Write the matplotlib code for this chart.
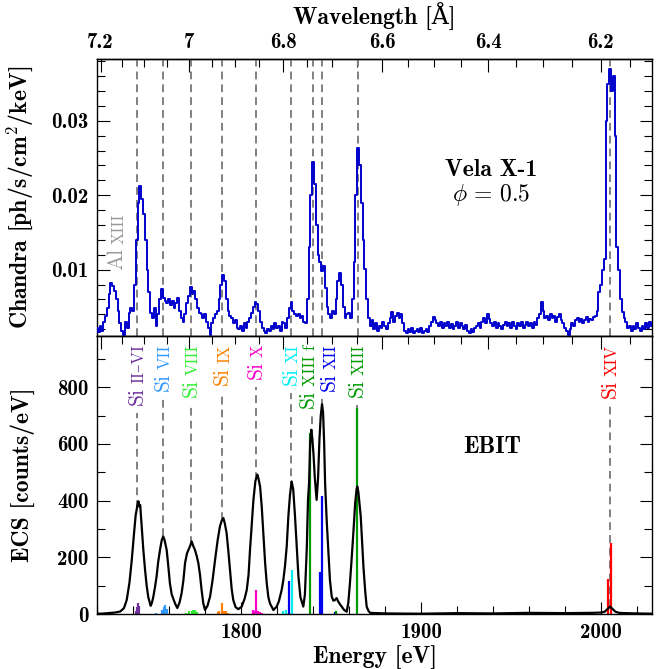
import numpy as np
import matplotlib
matplotlib.use('Agg')
import matplotlib.pyplot as plt
from matplotlib.ticker import MultipleLocator, FixedLocator, FormatStrFormatter

plt.rcParams.update({
    'font.family': ['cmb10', 'DejaVu Serif'],
    'font.size': 15,
    'mathtext.fontset': 'cm',
    'axes.linewidth': 1.0,
    'axes.unicode_minus': False,
})
ROMAN = ['cmr10', 'DejaVu Serif']
HC = 12398.42  # eV * Angstrom
LABEL_SIZE = 17
TEXT_SIZE = 17

# ---- Chandra HETG spectrum (1 eV bins from 1720 eV) ----
chandra_start = 1720
chandra_flux = [
    0.0022, 0.0016, 0.0025, 0.0018, 0.0030, 0.0038, 0.0048, 0.0068, 0.0082, 0.0078,
    0.0072, 0.0060, 0.0045, 0.0028, 0.0018, 0.0012, 0.0030, 0.0022, 0.0042, 0.0048,
    0.0045, 0.0080, 0.0140, 0.0190, 0.0213, 0.0195, 0.0175, 0.0140, 0.0100, 0.0070,
    0.0042, 0.0035, 0.0048, 0.0025, 0.0040, 0.0060, 0.0074, 0.0062, 0.0058, 0.0055,
    0.0060, 0.0052, 0.0058, 0.0048, 0.0055, 0.0062, 0.0045, 0.0035, 0.0030, 0.0040,
    0.0055, 0.0065, 0.0077, 0.0068, 0.0072, 0.0060, 0.0048, 0.0042, 0.0040, 0.0035,
    0.0040, 0.0030, 0.0022, 0.0012, 0.0028, 0.0035, 0.0040, 0.0045, 0.0060, 0.0080,
    0.0093, 0.0085, 0.0060, 0.0045, 0.0038, 0.0035, 0.0028, 0.0032, 0.0022, 0.0020,
    0.0025, 0.0018, 0.0028, 0.0022, 0.0030, 0.0035, 0.0042, 0.0050, 0.0056, 0.0054,
    0.0045, 0.0030, 0.0022, 0.0018, 0.0015, 0.0020, 0.0018, 0.0025, 0.0020, 0.0028,
    0.0022, 0.0025, 0.0018, 0.0030, 0.0028, 0.0022, 0.0035, 0.0048, 0.0057, 0.0045,
    0.0040, 0.0038, 0.0040, 0.0035, 0.0038, 0.0030, 0.0028, 0.0060, 0.0130, 0.0200,
    0.0245, 0.0215, 0.0160, 0.0120, 0.0110, 0.0098, 0.0105, 0.0075, 0.0050, 0.0040,
    0.0035, 0.0045, 0.0040, 0.0060, 0.0085, 0.0096, 0.0080, 0.0050, 0.0035, 0.0040,
    0.0042, 0.0035, 0.0060, 0.0110, 0.0200, 0.0263, 0.0240, 0.0190, 0.0140, 0.0101,
    0.0060, 0.0035, 0.0025, 0.0032, 0.0020, 0.0028, 0.0018, 0.0025, 0.0022, 0.0030,
    0.0025, 0.0020, 0.0028, 0.0035, 0.0043, 0.0030, 0.0038, 0.0042, 0.0035, 0.0040,
    0.0028, 0.0018, 0.0015, 0.0020, 0.0016, 0.0022, 0.0015, 0.0018, 0.0020, 0.0016,
    0.0022, 0.0015, 0.0018, 0.0020, 0.0016, 0.0025, 0.0030, 0.0037, 0.0032, 0.0028,
    0.0025, 0.0030, 0.0022, 0.0028, 0.0025, 0.0030, 0.0022, 0.0027, 0.0020, 0.0025,
    0.0030, 0.0022, 0.0028, 0.0024, 0.0020, 0.0026, 0.0018, 0.0015, 0.0020, 0.0016,
    0.0022, 0.0025, 0.0028, 0.0022, 0.0030, 0.0035, 0.0028, 0.0040, 0.0034, 0.0028,
    0.0025, 0.0030, 0.0022, 0.0028, 0.0025, 0.0020, 0.0026, 0.0030, 0.0024, 0.0028,
    0.0022, 0.0030, 0.0025, 0.0020, 0.0028, 0.0024, 0.0030, 0.0022, 0.0026, 0.0030,
    0.0025, 0.0028, 0.0022, 0.0030, 0.0026, 0.0035, 0.0040, 0.0057, 0.0045, 0.0035,
    0.0038, 0.0032, 0.0040, 0.0035, 0.0038, 0.0030, 0.0036, 0.0040, 0.0032, 0.0028,
    0.0022, 0.0018, 0.0012, 0.0020, 0.0028, 0.0025, 0.0032, 0.0035, 0.0030, 0.0034,
    0.0028, 0.0033, 0.0036, 0.0030, 0.0034, 0.0032, 0.0036, 0.0038, 0.0045, 0.0070,
    0.0080, 0.0100, 0.0115, 0.0300, 0.0350, 0.0370, 0.0340, 0.0360, 0.0280, 0.0130,
    0.0100, 0.0060, 0.0043, 0.0035, 0.0030, 0.0022, 0.0025, 0.0018, 0.0025, 0.0020,
    0.0028, 0.0022, 0.0018, 0.0025, 0.0020, 0.0028, 0.0022, 0.0030, 0.0025,
]
chandra_E = chandra_start + np.arange(len(chandra_flux))

# ---- EBIT ECS spectrum ----
ebit_E = [
    1718, 1722, 1726, 1730, 1733, 1735, 1736.5, 1738, 1739.3, 1740.5,
    1741.5, 1742.5, 1743, 1743.5, 1744, 1744.8, 1745.7, 1746.7, 1747.6, 1748.5,
    1749.8, 1750.5, 1751.3, 1752.2, 1753.1, 1754, 1755, 1756, 1756.8, 1757.5,
    1758.7, 1759.6, 1760.5, 1761.5, 1763.3, 1764.6, 1765.8, 1767, 1768, 1768.9,
    1770, 1771.7, 1772.6, 1773.5, 1774.4, 1775.4, 1776.3, 1777.2, 1778.1, 1779,
    1780, 1781.4, 1782.8, 1784.2, 1785.6, 1787, 1788.3, 1789.3, 1790.2, 1791,
    1792, 1793, 1793.9, 1794.8, 1795.7, 1797, 1798.5, 1800.4, 1802, 1803.2,
    1804.2, 1805, 1806, 1806.9, 1808, 1809.1, 1809.8, 1810.6, 1811.5, 1812.4,
    1813.4, 1814.3, 1815.2, 1816.1, 1818, 1819.8, 1821, 1822.6, 1823.5, 1824.4,
    1825.4, 1826.3, 1827.2, 1828.1, 1829, 1830, 1831, 1831.9, 1833, 1834.6,
    1835.5, 1836.5, 1837.2, 1837.8, 1838.4, 1839, 1839.6, 1840.3, 1841, 1842,
    1842.8, 1843.6, 1844.3, 1845, 1845.6, 1846.2, 1846.7, 1847.6, 1848.5, 1849.4,
    1850.4, 1851.3, 1852.2, 1853.1, 1854, 1855, 1855.9, 1857.3, 1858.7, 1859.6,
    1860.5, 1861.4, 1862.4, 1863.4, 1864.2, 1864.6, 1865.2, 1866, 1866.5, 1867.3,
    1868, 1869, 1869.8, 1870.8, 1871.7, 1880, 1900, 1920, 1940, 1960,
    1980, 1995, 2000, 2002, 2003.5, 2005, 2006.5, 2008, 2010, 2014,
    2020, 2029,
]
ebit_counts = [
    3, 2, 4, 6, 10, 22, 50, 110, 190, 280,
    350, 385, 398, 380, 385, 310, 230, 156, 100, 60,
    30, 40, 62, 95, 133, 185, 227, 262, 274, 262,
    227, 170, 109, 70, 39, 22, 40, 74, 120, 180,
    215, 240, 257, 240, 227, 205, 180, 140, 86, 40,
    15, 30, 62, 120, 192, 260, 310, 330, 339, 320,
    286, 220, 156, 90, 50, 25, 18, 27, 55, 86,
    140, 227, 320, 403, 470, 492, 475, 450, 380, 286,
    180, 109, 60, 38, 15, 27, 45, 86, 120, 168,
    240, 345, 420, 468, 440, 345, 230, 133, 60, 27,
    70, 227, 400, 462, 600, 650, 620, 560, 480, 403,
    480, 620, 700, 740, 710, 600, 463, 330, 227, 120,
    62, 48, 50, 57, 45, 35, 27, 15, 9, 40,
    109, 190, 286, 390, 440, 450, 430, 380, 345, 250,
    168, 80, 27, 12, 5, 3, 2, 4, 3, 5,
    4, 5, 6, 9, 18, 27, 18, 9, 5, 4,
    3, 2,
]

# ---- theoretical line intensities (sticks) ----
si2_6_E, si2_6_h = [1741.6, 1742.2, 1742.8, 1743.3], [12, 25, 38, 30]
si7_E, si7_h = [1752.8, 1756.3, 1757.2, 1758.0, 1758.7], [6, 15, 25, 33, 20]
si8_E, si8_h = [1769.5, 1771.0, 1772.5, 1773.5, 1774.5, 1775.5], [6, 10, 12, 15, 14, 8]
si9_E, si9_h = [1787.0, 1788.0, 1789.3, 1790.3, 1791.5, 1793.0], [8, 10, 41, 10, 12, 6]
si10_E, si10_h = [1806.5, 1807.5, 1808.3, 1809.5, 1810.5, 1811.5], [15, 12, 86, 12, 8, 6]
si11_E, si11_h = [1823.5, 1825.2, 1828.1], [10, 15, 156]
si12_E, si12_h = [1826.7, 1843.9, 1844.8, 1852.0], [117, 150, 415, 8]
si13_E, si13_h = [1838.3, 1852.8, 1864.3], [640, 10, 725]
si14_E, si14_h = [2003.7, 2005.6], [124, 251]

# ---- line identifications ----
chandra_lines = [1742.2, 1756.8, 1772.1, 1789.6, 1808.2, 1827.6, 1840.0, 1844.9, 1865.0, 2005.0]
ion_stage = ['II–VI', 'VII', 'VIII', 'IX', 'X', 'XI', 'XIII f', 'XII', 'XIII', 'XIV']
ion_label_E = [1742.2, 1756.8, 1772.1, 1789.6, 1808.2, 1827.6, 1837.3, 1848.9, 1864.6, 2005.0]
ion_line_E = [1742.2, 1756.8, 1772.1, 1789.6, 1808.2, 1827.6, 1839.5, 1844.9, 1864.6, 2005.0]
ion_color = ['#7030A0', '#3399FF', '#33EE33', '#FF8000', '#FF00CC', '#00EEEE',
             '#009900', '#0000EE', '#009900', '#FF0000']

sticks = [(si2_6_E, si2_6_h, ion_color[0]), (si7_E, si7_h, ion_color[1]),
          (si8_E, si8_h, ion_color[2]), (si9_E, si9_h, ion_color[3]),
          (si10_E, si10_h, ion_color[4]), (si11_E, si11_h, ion_color[5]),
          (si12_E, si12_h, ion_color[7]), (si13_E, si13_h, ion_color[8]),
          (si14_E, si14_h, ion_color[9])]

XLIM = (1720, 2028.3)
DASH = dict(color='#808080', lw=1.4, ls=(0, (4, 2.6)))


def e2l(e):
    e = np.asarray(e, dtype=float)
    with np.errstate(divide='ignore'):
        return HC / e


def wavelength_axis(ax, labels):
    sec = ax.secondary_xaxis('top', functions=(e2l, e2l))
    sec.xaxis.set_major_locator(FixedLocator([6.2, 6.4, 6.6, 6.8, 7.0, 7.2]))
    sec.xaxis.set_minor_locator(MultipleLocator(0.05))
    sec.xaxis.set_major_formatter(FormatStrFormatter('%g'))
    sec.tick_params(which='both', direction='in', width=0.8, labeltop=labels, pad=5)
    sec.tick_params(which='major', length=9)
    sec.tick_params(which='minor', length=5.5)
    return sec


fig = plt.figure(figsize=(6.63, 6.69), dpi=100)
ax1 = fig.add_axes([0.1463, 0.4985, 0.8371, 0.4133])
ax2 = fig.add_axes([0.1463, 0.0818, 0.8371, 0.4167])

# ---------------- top: Chandra ----------------
ax1.plot(chandra_E, chandra_flux, drawstyle='steps-mid', color='#0000CC', lw=1.4, zorder=3)
for e in chandra_lines:
    ax1.axvline(e, zorder=1, **DASH)
ax1.set_xlim(*XLIM)
ax1.set_ylim(0.00116, 0.0383)
ax1.yaxis.set_major_locator(FixedLocator([0.01, 0.02, 0.03]))
ax1.yaxis.set_minor_locator(MultipleLocator(0.002))
ax1.yaxis.set_major_formatter(FormatStrFormatter('%g'))
ax1.tick_params(axis='x', which='both', bottom=False, top=False, labelbottom=False)
ax1.tick_params(axis='y', which='both', direction='in', left=True, right=True, width=0.8, pad=6)
ax1.tick_params(axis='y', which='major', length=9)
ax1.tick_params(axis='y', which='minor', length=5.5)
ax1.set_ylabel('Chandra [ph/s/cm$^{\\mathbf{2}}$/keV]', fontsize=LABEL_SIZE)
ax1.yaxis.set_label_coords(-0.112, 0.5)
sec1 = wavelength_axis(ax1, True)
sec1.set_xlabel('Wavelength [Å]', fontsize=LABEL_SIZE, labelpad=6)
ax1.text(1938.9, 0.02336, 'Vela X-1', ha='center', va='center', fontsize=TEXT_SIZE)
ax1.text(1938.9, 0.0200, r'$\phi\,=\,\mathbf{0.5}$', ha='center', va='center', fontsize=TEXT_SIZE)

# ---------------- bottom: EBIT ----------------
for es, hs, c in sticks:
    ax2.vlines(es, 0, hs, color=c, lw=1.6, zorder=2)
ax2.plot(ebit_E, ebit_counts, color='black', lw=1.6, zorder=3)
ax2.set_xlim(*XLIM)
ax2.set_ylim(0, 982)
ax2.xaxis.set_major_locator(MultipleLocator(100))
ax2.xaxis.set_minor_locator(MultipleLocator(20))
ax2.yaxis.set_major_locator(MultipleLocator(200))
ax2.yaxis.set_minor_locator(MultipleLocator(100))
ax2.tick_params(which='both', direction='in', top=False, right=True, width=0.8, pad=6)
ax2.tick_params(which='major', length=9)
ax2.tick_params(which='minor', length=5.5)
ax2.set_xlabel('Energy [eV]', fontsize=LABEL_SIZE, labelpad=3)
ax2.set_ylabel('ECS [counts/eV]', fontsize=LABEL_SIZE)
ax2.yaxis.set_label_coords(-0.112, 0.5)
wavelength_axis(ax2, False)
ax2.text(1939.4, 590, 'EBIT', ha='center', va='center', fontsize=TEXT_SIZE)

# ---- rotated ion labels: "Si" + smaller stage, stacked ----
renderer = fig.canvas.get_renderer()


def stacked_label(ax, x, y, main, sub, color, fs_main, fs_sub, from_top=True, gap=4):
    kw = dict(rotation=90, color=color, family=ROMAN, textcoords='offset pixels',
              annotation_clip=False)
    m = ax.annotate(main, (x, y), xytext=(0, 0), ha='center',
                    va='top' if from_top else 'bottom', fontsize=fs_main, **kw)
    s = ax.annotate(sub, (x, y), xytext=(0, 0), ha='right',
                    va='top' if from_top else 'bottom', fontsize=fs_sub, **kw)
    bm = m.get_window_extent(renderer)
    bs = s.get_window_extent(renderer)
    if from_top:
        s.xyann = (bm.width / 2, 0)
        m.xyann = (0, -(bs.height + gap))
    else:
        s.xyann = (bm.width / 2, bm.height + gap)
    return m.get_window_extent(renderer).y0


inv = ax2.transData.inverted()
for lab_e, line_e, stage, col in zip(ion_label_E, ion_line_E, ion_stage, ion_color):
    y0 = stacked_label(ax2, lab_e, 950, 'Si', stage, col, 15.5, 12)
    top = inv.transform((0, y0 - 8))[1]
    bottom = np.interp(line_e, ebit_E, ebit_counts)
    if top > bottom:
        ax2.plot([line_e, line_e], [bottom, top], zorder=1, **DASH)

stacked_label(ax1, 1730.8, 0.0099, 'Al', 'XIII', '#999999', 15.5, 12, from_top=False)

fig.savefig('out.png', dpi=100)
